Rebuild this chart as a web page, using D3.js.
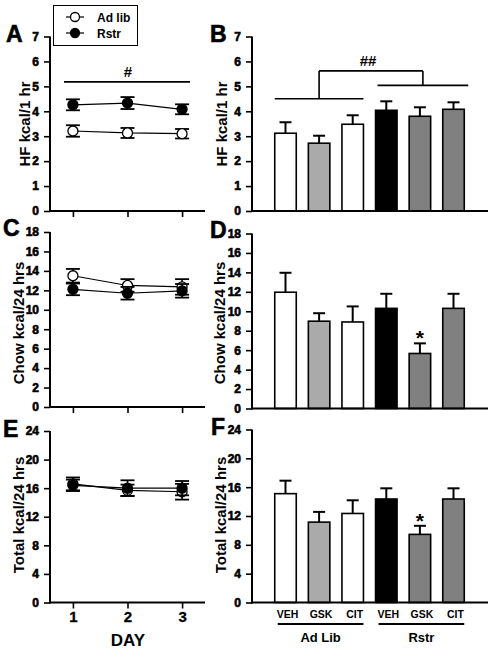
<!DOCTYPE html>
<html><head><meta charset="utf-8">
<script src="https://cdn.jsdelivr.net/npm/d3@7"></script>
<style>
body{margin:0;background:#fff;}
text{font-family:Arial,"Liberation Sans",sans-serif;font-weight:bold;fill:#000;}
.tk{fill:#000 !important;stroke:#000;stroke-width:0.6px;font-weight:bold;}
</style></head>
<body><svg id="c" width="496" height="652"></svg>
<script>
// ---------- data ----------
const days = [1, 2, 3];
const seriesNames = ["Ad lib", "Rstr"];
const hfAdLib = [3.21, 3.13, 3.1];
const hfAdLibErr = [0.23, 0.2, 0.19];
const hfRstr = [4.26, 4.33, 4.08];
const hfRstrErr = [0.22, 0.24, 0.2];
const chowAdLib = [13.5, 12.5, 12.35];
const chowAdLibErr = [0.7, 0.65, 0.8];
const chowRstr = [12.1, 11.7, 11.95];
const chowRstrErr = [0.6, 0.65, 0.7];
const totalAdLib = [16.6, 15.7, 15.5];
const totalAdLibErr = [0.9, 0.8, 1.1];
const totalRstr = [16.4, 16.0, 16.0];
const totalRstrErr = [0.8, 1.1, 1.0];

const barLabels = ["VEH", "GSK", "CIT", "VEH", "GSK", "CIT"];
const groupLabels = ["Ad Lib", "Rstr"];
const hfBar = [3.12, 2.72, 3.48, 4.04, 3.8, 4.08];
const hfBarErr = [0.44, 0.3, 0.36, 0.36, 0.36, 0.28];
const chowBar = [11.96, 8.98, 8.9, 10.3, 5.66, 10.3];
const chowBarErr = [2.0, 0.82, 1.6, 1.5, 1.04, 1.5];
const totalBar = [15.1, 11.15, 12.35, 14.36, 9.45, 14.36];
const totalBarErr = [1.8, 1.42, 1.83, 1.48, 1.19, 1.48];
const barColors = ["#ffffff", "#aaaaaa", "#ffffff", "#000000", "#808080", "#808080"];

const hfTicks = [0, 1, 2, 3, 4, 5, 6, 7];
const chowTicks = [0, 2, 4, 6, 8, 10, 12, 14, 16, 18];
const totalTicks = [0, 4, 8, 12, 16, 20, 24];

// ---------- drawing ----------
const svg = d3.select("#c");

function yAxis(g, y, ticks, x0) {
  const ax = g.append("g").attr("transform", `translate(${x0},0)`)
    .call(d3.axisLeft(y).tickValues(ticks).tickFormat(d3.format("d")).tickSize(6).tickPadding(5));
  ax.attr("fill", null);
  ax.select(".domain").attr("stroke", "#000").attr("stroke-width", 2)
    .attr("d", `M0,${y.range()[0] + 1}V${y.range()[1]}`);
  ax.selectAll(".tick line").attr("stroke", "#000").attr("stroke-width", 1.6);
  ax.selectAll(".tick text").attr("class", "tk").attr("fill", "#000").style("font-size", "12px");
  return ax;
}

function yTitle(text, x, yc) {
  svg.append("text").attr("transform", `translate(${x},${yc}) rotate(-90)`)
    .attr("text-anchor", "middle").style("font-size", "15px").text(text);
}

function letter(t, x, y) {
  svg.append("text").attr("x", x).attr("y", y).style("font-size", "23px")
    .style("stroke", "#000").style("stroke-width", "0.6px").text(t);
}

function linePanel(opts) {
  const {y0, y1, max, ticks, ad, adE, rs, rsE, showDayLabels} = opts;
  const x = d3.scaleLinear().domain([0.58, 3.42]).range([50, 205]);
  const y = d3.scaleLinear().domain([0, max]).range([y0, y1]);
  const g = svg.append("g");
  yAxis(g, y, ticks, 50);
  const xa = g.append("g").attr("transform", `translate(0,${y0})`)
    .call(d3.axisBottom(x).tickValues(days).tickSize(6).tickPadding(3)
      .tickFormat(showDayLabels ? d3.format("d") : ""));
  xa.attr("fill", null);
  xa.select(".domain").attr("stroke", "#000").attr("stroke-width", 2)
    .attr("d", `M${x.range()[0]},0H${x.range()[1]}`);
  xa.selectAll(".tick line").attr("stroke", "#000").attr("stroke-width", 1.6);
  xa.selectAll(".tick text").attr("class", "tk").attr("fill", "#000").style("font-size", "15px").style("stroke-width", "0.3px");
  const series = [{v: ad, e: adE, fill: "#fff"}, {v: rs, e: rsE, fill: "#000"}];
  series.forEach(s => {
    const pts = days.map((d, i) => ({d, v: s.v[i], e: s.e[i]}));
    g.append("path").datum(pts).attr("fill", "none").attr("stroke", "#000").attr("stroke-width", 1.2)
      .attr("d", d3.line().x(p => x(p.d)).y(p => y(p.v)));
    const eb = g.append("g").selectAll("g").data(pts).join("g");
    eb.append("line").attr("x1", p => x(p.d)).attr("x2", p => x(p.d))
      .attr("y1", p => y(p.v - p.e)).attr("y2", p => y(p.v + p.e)).attr("stroke", "#000").attr("stroke-width", 1.6);
    [1, -1].forEach(sg => {
      eb.append("line").attr("x1", p => x(p.d) - 7).attr("x2", p => x(p.d) + 7)
        .attr("y1", p => y(p.v + sg * p.e)).attr("y2", p => y(p.v + sg * p.e))
        .attr("stroke", "#000").attr("stroke-width", 1.8);
    });
    g.append("g").selectAll("circle").data(pts).join("circle")
      .attr("cx", p => x(p.d)).attr("cy", p => y(p.v)).attr("r", 5)
      .attr("fill", s.fill).attr("stroke", "#000").attr("stroke-width", 1.3);
  });
  return {x, y, g};
}

function barPanel(opts) {
  const {y0, y1, max, ticks, vals, errs} = opts;
  const x = d3.scaleBand().domain(d3.range(vals.length)).range([268.7, 470.3])
    .paddingInner(0.36).paddingOuter(0.18);
  const y = d3.scaleLinear().domain([0, max]).range([y0, y1]);
  const g = svg.append("g");
  yAxis(g, y, ticks, 252);
  const data = vals.map((v, i) => ({i, v, e: errs[i]}));
  g.append("g").selectAll("line").data(data).join("line")
    .attr("x1", d => x(d.i) + x.bandwidth() / 2).attr("x2", d => x(d.i) + x.bandwidth() / 2)
    .attr("y1", d => y(d.v)).attr("y2", d => y(d.v + d.e)).attr("stroke", "#000").attr("stroke-width", 2);
  g.append("g").selectAll("line").data(data).join("line")
    .attr("x1", d => x(d.i) + x.bandwidth() / 2 - 6).attr("x2", d => x(d.i) + x.bandwidth() / 2 + 6)
    .attr("y1", d => y(d.v + d.e)).attr("y2", d => y(d.v + d.e)).attr("stroke", "#000").attr("stroke-width", 2);
  g.append("g").selectAll("rect").data(data).join("rect")
    .attr("x", d => x(d.i)).attr("width", x.bandwidth())
    .attr("y", d => y(d.v)).attr("height", d => y0 - y(d.v))
    .attr("fill", d => barColors[d.i]).attr("stroke", "#000").attr("stroke-width", 1.6);
  g.append("line").attr("x1", 251).attr("x2", 488).attr("y1", y0).attr("y2", y0)
    .attr("stroke", "#000").attr("stroke-width", 2);
  return {x, y, g};
}

// Panel A
const A = linePanel({y0: 211, y1: 36.5, max: 7, ticks: hfTicks,
  ad: hfAdLib, adE: hfAdLibErr, rs: hfRstr, rsE: hfRstrErr, showDayLabels: false});
A.g.append("line").attr("x1", 64).attr("x2", 190).attr("y1", A.y(5.18)).attr("y2", A.y(5.18))
  .attr("stroke", "#000").attr("stroke-width", 1.6);
A.g.append("text").attr("x", 128).attr("y", A.y(5.18) - 5).attr("text-anchor", "middle")
  .style("font-size", "15px").text("#");
// legend
const leg = svg.append("g");
leg.append("rect").attr("x", 53.5).attr("y", 5.5).attr("width", 84).attr("height", 40)
  .attr("fill", "#fff").attr("stroke", "#000").attr("stroke-width", 1);
seriesNames.forEach((n, i) => {
  const cy = 17 + i * 16;
  leg.append("line").attr("x1", 66).attr("x2", 84).attr("y1", cy).attr("y2", cy).attr("stroke", "#000").attr("stroke-width", 1.2);
  leg.append("circle").attr("cx", 75).attr("cy", cy).attr("r", 4.5)
    .attr("fill", i === 0 ? "#fff" : "#000").attr("stroke", "#000").attr("stroke-width", 1.3);
  leg.append("text").attr("x", 97).attr("y", cy + 4.5).style("font-size", "12px").text(n);
});

// Panel B
const B = barPanel({y0: 211, y1: 36.5, max: 7, ticks: hfTicks, vals: hfBar, errs: hfBarErr});
{
  const x = B.x, y = B.y, bw = x.bandwidth();
  const adL = x(0), adR = x(2) + bw, rsL = x(3) + 2, rsR = x(5) + bw + 4;
  const yAd = y(4.5), yRs = y(5.04), yTop = y(5.62);
  const cAd = (adL + adR) / 2, cRs = (rsL + rsR) / 2;
  const ln = (x1, y1, x2, y2) => B.g.append("line").attr("x1", x1).attr("y1", y1).attr("x2", x2).attr("y2", y2)
    .attr("stroke", "#000").attr("stroke-width", 1.6);
  ln(adL, yAd, adR, yAd);
  ln(rsL, yRs, rsR, yRs);
  ln(cAd, yAd, cAd, yTop);
  ln(cAd, yTop, cRs, yTop);
  ln(cRs, yTop, cRs, yRs);
  B.g.append("text").attr("x", 368).attr("y", yTop - 5).attr("text-anchor", "middle")
    .style("font-size", "15px").text("##");
}

// Panel C
linePanel({y0: 407, y1: 232, max: 18, ticks: chowTicks,
  ad: chowAdLib, adE: chowAdLibErr, rs: chowRstr, rsE: chowRstrErr, showDayLabels: false});
// Panel D
const D = barPanel({y0: 408.5, y1: 233.5, max: 18, ticks: chowTicks, vals: chowBar, errs: chowBarErr});
D.g.append("text").attr("x", D.x(4) + D.x.bandwidth() / 2).attr("y", D.y(chowBar[4] + chowBarErr[4]) + 2)
  .attr("text-anchor", "middle").style("font-size", "21px").text("*");

// Panel E
linePanel({y0: 602.5, y1: 431, max: 24, ticks: totalTicks,
  ad: totalAdLib, adE: totalAdLibErr, rs: totalRstr, rsE: totalRstrErr, showDayLabels: true});
svg.append("text").attr("x", 128).attr("y", 646).attr("text-anchor", "middle").style("font-size", "17px").text("DAY");

// Panel F
const F = barPanel({y0: 602.5, y1: 429.5, max: 24, ticks: totalTicks, vals: totalBar, errs: totalBarErr});
F.g.append("text").attr("x", F.x(4) + F.x.bandwidth() / 2).attr("y", F.y(totalBar[4] + totalBarErr[4]) + 2)
  .attr("text-anchor", "middle").style("font-size", "21px").text("*");
barLabels.forEach((l, i) => {
  svg.append("text").attr("x", F.x(i) + F.x.bandwidth() / 2 + 2).attr("y", 618)
    .attr("text-anchor", "middle").style("font-size", "10.5px").text(l);
});
groupLabels.forEach((l, gi) => {
  const l0 = F.x(gi * 3) + 3, r0 = F.x(gi * 3 + 2) + F.x.bandwidth();
  svg.append("line").attr("x1", l0).attr("x2", r0).attr("y1", 624).attr("y2", 624)
    .attr("stroke", "#000").attr("stroke-width", 1.8);
  svg.append("text").attr("x", (l0 + r0) / 2).attr("y", 642).attr("text-anchor", "middle")
    .style("font-size", "13px").text(l);
});

// titles and letters
yTitle("HF kcal/1 hr", 30, 124);
yTitle("HF kcal/1 hr", 227, 124);
yTitle("Chow kcal/24 hrs", 24, 323);
yTitle("Chow kcal/24 hrs", 225, 323);
yTitle("Total kcal/24 hrs", 24, 515);
yTitle("Total kcal/24 hrs", 226, 515);
letter("A", 6, 42);
letter("B", 210, 42);
letter("C", 3, 236);
letter("D", 210, 238);
letter("E", 3, 437);
letter("F", 211, 435);
</script></body></html>
